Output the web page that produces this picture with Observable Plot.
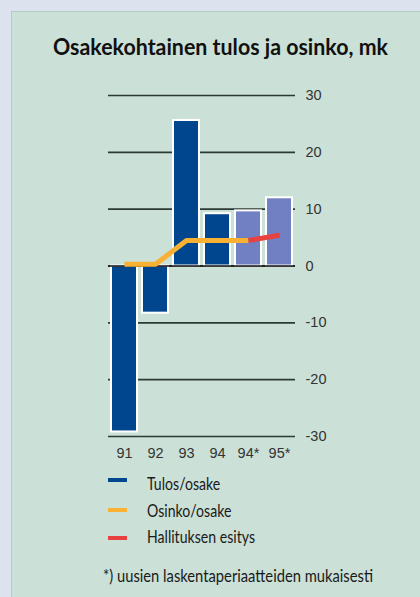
<!DOCTYPE html>
<html>
<head>
<meta charset="utf-8">
<script src="https://cdn.jsdelivr.net/npm/d3@7"></script>
<script src="https://cdn.jsdelivr.net/npm/@observablehq/plot@0.6"></script>
<style>
  html, body { margin: 0; padding: 0; }
  body { width: 420px; height: 597px; position: relative; overflow: hidden; background: #dce3ef; }
  #panel { position: absolute; left: 11px; top: 11px; right: 0; bottom: 0; background: #cbe0d6; border-left: 1px solid #b4cdc3; border-top: 1px solid #b4cdc3; }
  #chart { position: absolute; left: 0; top: 0; }
  .txt { position: absolute; white-space: nowrap; line-height: 1; color: #1a1a1a; font-family: Lato, "Open Sans", sans-serif; transform-origin: 0 0; }
  #title { font-weight: 700; font-size: 22px; color: #111; }
  .leg { font-size: 18px; }
  #foot { font-size: 17px; }
  .sw { position: absolute; width: 19px; height: 4px; }
</style>
</head>
<body>
<div id="panel"></div>
<div id="chart"></div>
<div id="title" class="txt"></div>
<div id="legend"></div>
<div id="foot" class="txt"></div>
<script>
// ---- data ----
const title = "Osakekohtainen tulos ja osinko, mk";
const years = ["91", "92", "93", "94", "94*", "95*"];
const tulos = [-29.2, -8.3, 25.6, 9.2, 9.7, 12.0];      // Tulos/osake
const osinko = [0.3, 0.3, 4.5, 4.5, 4.5, 5.4];          // Osinko/osake
const basis = ["vanha", "vanha", "vanha", "vanha", "uusi", "uusi"]; // laskentaperiaate
const ehdotus = [false, false, false, false, false, true]; // Hallituksen esitys
const yTicks = [-30, -20, -10, 0, 10, 20, 30];
const legendLabels = ["Tulos/osake", "Osinko/osake", "Hallituksen esitys"];
const footnote = "*) uusien laskentaperiaatteiden mukaisesti";

// ---- colours ----
const darkBlue = "#00468f";
const lightBlue = "#7180c2";
const orange = "#f8b133";
const red = "#e8413f";
const legendColors = [darkBlue, orange, red];

const rows = years.map((y, i) => ({year: y, tulos: tulos[i], osinko: osinko[i], basis: basis[i], ehdotus: ehdotus[i]}));
const lastActual = rows.findIndex(d => d.ehdotus) - 1;
const orangeRows = rows.slice(0, lastActual + 1);
const redRows = rows.slice(lastActual);

const chart = Plot.plot({
  width: 420,
  height: 470,
  marginTop: 95,
  marginBottom: 34,
  marginLeft: 108,
  marginRight: 125,
  style: {background: "transparent", fontFamily: "'Liberation Sans', Arial, sans-serif", fontSize: "14.5px", color: "#333"},
  x: {type: "band", domain: years, paddingInner: 0.15, paddingOuter: 0, label: null},
  y: {domain: [-30, 30], label: null},
  marks: [
    Plot.ruleY(yTicks, {stroke: "#2c3a34", strokeWidth: 1.6}),
    Plot.barY(rows, {x: "year", y: "tulos", fill: d => d.basis === "uusi" ? lightBlue : darkBlue, stroke: "white", strokeWidth: 2}),
    Plot.ruleY([0], {stroke: "#111", strokeWidth: 1.6}),
    Plot.line(orangeRows, {x: "year", y: "osinko", stroke: orange, strokeWidth: 5, strokeLinecap: "butt", strokeLinejoin: "miter"}),
    Plot.line(redRows, {x: "year", y: "osinko", stroke: red, strokeWidth: 5, strokeLinecap: "butt", strokeLinejoin: "miter"}),
    Plot.axisY({anchor: "right", ticks: yTicks, tickSize: 0, tickPadding: 10, tickFormat: d => String(d), label: null}),
    Plot.axisX({tickSize: 0, tickPadding: 11, label: null})
  ]
});
document.getElementById("chart").appendChild(chart);

// ---- title, legend, footnote ----
const t = document.getElementById("title");
t.textContent = title;
t.style.left = "53px"; t.style.top = "36px";
t.dataset.w = 335;

const legend = document.getElementById("legend");
const swY = [477.5, 507.5, 536];
const txtTop = [474, 500.5, 527];
legendLabels.forEach((lab, i) => {
  const sw = document.createElement("div");
  sw.className = "sw";
  sw.style.left = "108px"; sw.style.top = swY[i] + "px"; sw.style.background = legendColors[i];
  legend.appendChild(sw);
  const tx = document.createElement("div");
  tx.className = "txt leg";
  tx.textContent = lab;
  tx.style.left = "147px"; tx.style.top = txtTop[i] + "px";
  if (i === 2) tx.dataset.w = 108;
  legend.appendChild(tx);
});

const f = document.getElementById("foot");
f.textContent = footnote;
f.style.left = "103px"; f.style.top = "567px";
f.dataset.w = 270;

function fit() {
  // legend: one common scale from the longest label
  const legs = [...document.querySelectorAll(".leg")];
  let legScale = 1;
  legs.forEach(el => { if (el.dataset.w) legScale = el.dataset.w / el.getBoundingClientRect().width; });
  legs.forEach(el => el.style.transform = `scaleX(${legScale})`);
  [t, f].forEach(el => {
    const w = el.getBoundingClientRect().width;
    el.style.transform = `scaleX(${el.dataset.w / w})`;
  });
}
if (document.fonts && document.fonts.ready) document.fonts.ready.then(fit); else fit();
</script>
</body>
</html>
